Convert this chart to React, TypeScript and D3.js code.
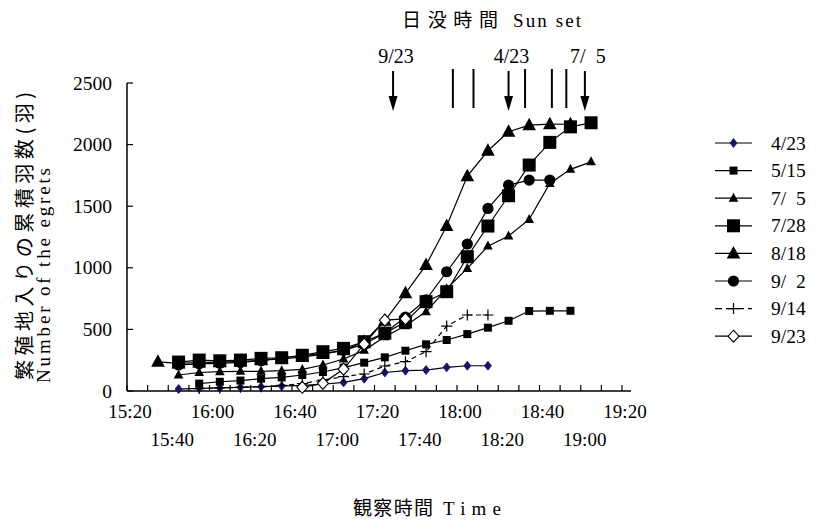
import React from 'react';
import * as d3 from 'd3';

// observation times (every 10 min)
const times = ["15:35","15:45","15:55","16:05","16:15","16:25","16:35","16:45","16:55","17:05","17:15","17:25","17:35","17:45","17:55","18:05","18:15","18:25","18:35","18:45","18:55","19:05"];
const xTickTimes = ["15:20","15:30","15:40","15:50","16:00","16:10","16:20","16:30","16:40","16:50","17:00","17:10","17:20","17:30","17:40","17:50","18:00","18:10","18:20","18:30","18:40","18:50","19:00","19:10","19:20"];
const xLabelsRow1 = ["15:20","16:00","16:40","17:20","18:00","18:40","19:20"];
const xLabelsRow2 = ["15:40","16:20","17:00","17:40","18:20","19:00"];
const yTicks = [0, 500, 1000, 1500, 2000, 2500];

const v0423 = [null,16,22,25,30,35,40,45,55,70,100,150,165,170,192,205,205,null,null,null,null,null];
const v0515 = [null,null,60,75,85,100,110,130,154,190,230,273,327,379,414,462,514,570,649,651,651,null];
const v0705 = [null,130,150,157,160,160,165,175,211,260,330,440,530,643,830,995,1176,1258,1393,1685,1799,1860];
const v0728 = [null,235,251,245,251,265,270,290,319,346,400,470,560,725,806,1090,1339,1585,1834,2018,2144,2177];
const v0818 = [237,225,230,235,240,250,260,275,300,330,400,570,793,1022,1339,1744,1950,2104,2158,2166,2165,null];
const v0902 = [null,211,220,225,232,245,270,285,305,330,380,470,600,740,968,1193,1482,1671,1712,1712,null,null];
const v0914 = [null,null,20,25,30,35,45,60,89,116,138,203,238,319,527,617,617,null,null,null,null,null];
const v0923 = [null,null,null,null,null,null,null,30,62,178,380,575,585,null,null,null,null,null,null,null,null,null];

const seriesLabels = ["4/23","5/15","7/  5","7/28","8/18","9/  2","9/14","9/23"];
const seriesMarkers = ["diamondSmall","squareSmall","triangleSmall","squareBig","triangleBig","circle","plus","diamondOpen"];
const seriesValues = [v0423, v0515, v0705, v0728, v0818, v0902, v0914, v0923];

// sunset times
const sunsetArrows = ["17:29","18:25","19:02"];
const sunsetArrowLabels = ["9/23","4/23","7/  5"];
const sunsetLines = ["17:58","18:08","18:33","18:46","18:53"];

const toMin = (s: string) => { const [h, m] = s.split(':').map(Number); return h * 60 + m; };

const W = 817, H = 521;
const x = d3.scaleLinear().domain([toMin("15:20"), toMin("19:20")]).range([127, 622]);
const y = d3.scaleLinear().domain([0, 2500]).range([391, 83]);

const SERIF = "'Liberation Serif', serif";
const CJK = "'Noto Sans CJK JP', sans-serif";

function Marker({ kind, cx, cy }: { kind: string; cx: number; cy: number }) {
  const t = `translate(${cx},${cy})`;
  switch (kind) {
    case "diamondSmall":
      return <path transform={t} d="M0,-4.5L3.5,0L0,4.5L-3.5,0Z" fill="#14146e" stroke="#14146e" strokeWidth={0.8} />;
    case "squareSmall":
      return <rect x={cx - 4} y={cy - 4} width={8} height={8} fill="#000" />;
    case "triangleSmall":
      return <path transform={t} d="M0,-5.5L4.8,3.5L-4.8,3.5Z" fill="#000" />;
    case "squareBig":
      return <rect x={cx - 6.5} y={cy - 6.5} width={13} height={13} fill="#000" />;
    case "triangleBig":
      return <path transform={t} d="M0,-7.5L6.8,5L-6.8,5Z" fill="#000" />;
    case "circle":
      return <circle cx={cx} cy={cy} r={5.6} fill="#000" />;
    case "plus":
      return <path transform={t} d="M-5.5,0H5.5M0,-5.5V5.5" stroke="#000" strokeWidth={1.2} fill="none" />;
    case "diamondOpen":
      return <path transform={t} d="M0,-6L5.5,0L0,6L-5.5,0Z" fill="#fff" stroke="#000" strokeWidth={1.1} />;
    default:
      return null;
  }
}

export default function App() {
  const line = d3.line<[number, number | null]>()
    .defined(d => d[1] != null)
    .x(d => x(toMin(times[d[0]])))
    .y(d => y(d[1] as number));

  const legendY0 = 143, legendStep = 27.6;

  return (
    <svg width={W} height={H} style={{ position: 'absolute', left: 0, top: 0, background: '#fff' }}>
      <rect x={0} y={0} width={W} height={H} fill="#fff" />
      {/* title */}
      <text x={402} y={27} fontFamily={CJK} fontSize={19} textLength={96} lengthAdjust="spacing">日没時間</text>
      <text x={513} y={27} fontFamily={SERIF} fontSize={19} textLength={68} lengthAdjust="spacing">Sun set</text>

      {/* sunset arrows */}
      {sunsetArrows.map((s, i) => {
        const xx = x(toMin(s));
        return (
          <g key={'a' + i}>
            <line x1={xx} x2={xx} y1={71} y2={98} stroke="#000" strokeWidth={2} />
            <path d={`M${xx - 4.5},96L${xx + 4.5},96L${xx},111Z`} fill="#000" />
            <text x={xx + 3} y={63} textAnchor="middle" fontFamily={SERIF} fontSize={20} style={{ whiteSpace: 'pre' }}>{sunsetArrowLabels[i]}</text>
          </g>
        );
      })}
      {sunsetLines.map((s, i) => {
        const xx = x(toMin(s));
        return <line key={'l' + i} x1={xx} x2={xx} y1={69} y2={108} stroke="#000" strokeWidth={2} />;
      })}

      {/* axes */}
      <line x1={127} x2={127} y1={83} y2={391} stroke="#000" strokeWidth={1.5} />
      <line x1={127} x2={631} y1={391} y2={391} stroke="#000" strokeWidth={1.5} />
      {yTicks.map(v => (
        <g key={'y' + v}>
          <line x1={127} x2={133} y1={y(v)} y2={y(v)} stroke="#000" strokeWidth={1.2} />
          <text x={112} y={y(v) + 6.5} textAnchor="end" fontFamily={SERIF} fontSize={19.5}>{v}</text>
        </g>
      ))}
      {xTickTimes.map(t => (
        <line key={'xt' + t} x1={x(toMin(t))} x2={x(toMin(t))} y1={391} y2={385} stroke="#000" strokeWidth={1.2} />
      ))}
      {xLabelsRow1.map(t => (
        <text key={'r1' + t} x={x(toMin(t)) + 3} y={418} textAnchor="middle" fontFamily={SERIF} fontSize={19}>{t}</text>
      ))}
      {xLabelsRow2.map(t => (
        <text key={'r2' + t} x={x(toMin(t)) + 4} y={446} textAnchor="middle" fontFamily={SERIF} fontSize={19}>{t}</text>
      ))}

      {/* axis titles */}
      <text transform="translate(32,380) rotate(-90)" fontFamily={CJK} fontSize={20} textLength={288} lengthAdjust="spacing">繁殖地入りの累積羽数(羽)</text>
      <text transform="translate(50,383) rotate(-90)" fontFamily={SERIF} fontSize={19} textLength={215} lengthAdjust="spacing">Number of the egrets</text>
      <text x={353} y={515} fontFamily={CJK} fontSize={19} textLength={80} lengthAdjust="spacing">観察時間</text>
      <text x={443} y={515} fontFamily={SERIF} fontSize={19} textLength={58} lengthAdjust="spacing">Time</text>

      {/* series */}
      {seriesValues.map((vals, si) => {
        const pts: [number, number | null][] = vals.map((v, i) => [i, v]);
        return (
          <g key={'s' + si}>
            <path d={line(pts) || ''} fill="none" stroke="#000" strokeWidth={1.2}
              strokeDasharray={seriesMarkers[si] === 'plus' ? '5,4' : undefined} />
            {pts.filter(p => p[1] != null).map(p => (
              <Marker key={p[0]} kind={seriesMarkers[si]} cx={x(toMin(times[p[0]]))} cy={y(p[1] as number)} />
            ))}
          </g>
        );
      })}

      {/* legend */}
      {seriesLabels.map((lab, i) => {
        const ly = legendY0 + i * legendStep;
        return (
          <g key={'lg' + i}>
            <line x1={715} x2={752} y1={ly} y2={ly} stroke="#000" strokeWidth={1.2}
              strokeDasharray={seriesMarkers[i] === 'plus' ? '7,4' : undefined} />
            <Marker kind={seriesMarkers[i]} cx={733.5} cy={ly} />
            <text x={771} y={ly + 6.5} fontFamily={SERIF} fontSize={19.5} style={{ whiteSpace: 'pre' }}>{lab}</text>
          </g>
        );
      })}
    </svg>
  );
}
